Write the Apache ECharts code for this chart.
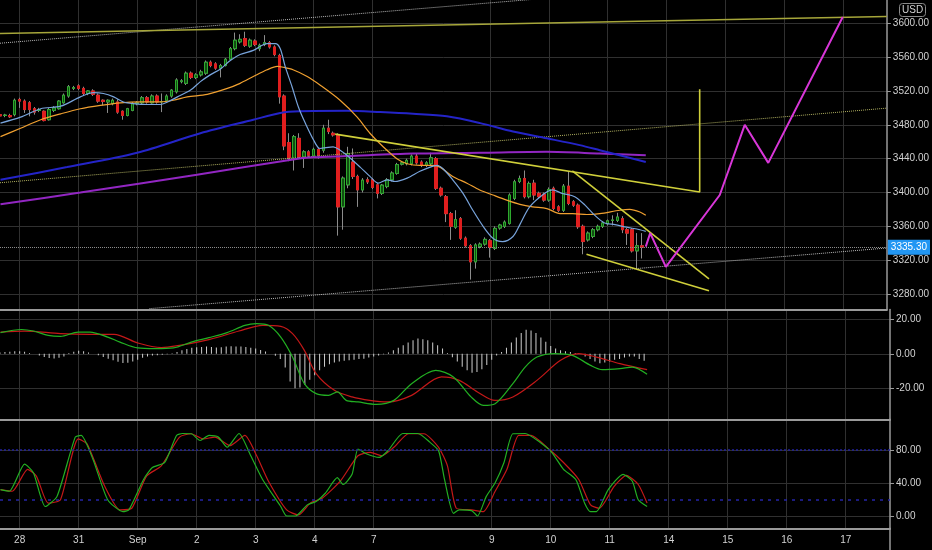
<!DOCTYPE html>
<html><head><meta charset="utf-8">
<script src="https://cdn.jsdelivr.net/npm/echarts@6/dist/echarts.min.js"></script>
<style>html,body{margin:0;padding:0;background:#000;overflow:hidden}#c{width:932px;height:550px}</style>
</head><body><div id="c"></div>
<script>
// ---------- data ----------
const dayLabels = ['28','31','Sep','2','3','4','7','','9','10','11','14','15','16','17'];
const barsPerDay = 12;
const firstBar = -4, lastSlot = 177;
// candles, bar -4 .. 127
const open = [3492,3491,3491,3492,
 3510,3508,3506,3499,3497,3496,3486,3497,3499,3506,3514,3523,
 3526,3523,3517,3520,3515,3509,3507,3505,3507,3496,3491,3497,
 3505,3506,3512,3506,3514,3507,3509,3514,3519,3531,3529,3541,
 3536,3539,3541,3554,3552,3547,3550,3557.5,3570,3578,3582,3573,
 3579,3570,3575,3577,3572,3562,3514,3459,3440,3464,3442,3448,
 3443,3451,3450,3476,3470,3468,3383,3409,3436,3419,3403,3415,
 3415,3409,3399,3407,3415,3422.5,3433.5,3434,3434,3443,3436,3432,
 3434,3440,3405,3395,3375,3359,3369,3346,3337,3318,3336,3339,
 3343,3334,3358,3360,3363.5,3393,3413,3416.6,3395,3411,3399,3398,
 3391,3405,3383,3379,3407.5,3389,3385,3360,3344,3348,3356,3360,
 3363,3367,3367,3369,3356,3356,3331,3337];
const close = [3490.5,3491.5,3489.5,3509,
 3508,3498,3498,3495,3498,3485,3498,3500,3508,3515,3525,3524,
 3523,3517,3520,3516,3508,3507.5,3509,3509,3495,3491,3499,3505,
 3506,3512,3507,3514,3507,3507.5,3514,3521,3533,3532,3541,3536,
 3539,3542.5,3554,3550,3547,3550,3557.5,3570,3580,3581,3574,3580,
 3575,3574,3577,3572,3563,3513,3455,3441,3466,3442,3448,3444,
 3451,3444,3476,3472,3468,3383,3417,3446,3419,3403,3414.6,3412.5,
 3406,3399,3408.7,3415,3423,3433,3435,3438,3443,3435,3432,3435,
 3441,3405,3397,3375,3360,3368,3346,3337,3318,3338,3339,3344.6,
 3335,3357.6,3361.5,3365,3397,3412.6,3416.6,3395,3410.7,3397,3395,3391,
 3403.6,3381,3379,3407.5,3387,3385,3359.5,3342,3352,3356,3360,3364,
 3366.5,3367.5,3371,3356,3352,3331,3337,3335.3];
const low = [3489,3489,3488,3490,
 3500,3494,3490,3492,3495,3484,3485,3495,3498,3505,3512,3521,
 3521,3515,3515,3514,3506,3503,3494,3503,3493,3486,3490,3496,
 3503,3504,3505,3505,3505,3495,3508,3512,3517,3529,3527,3534,
 3534,3537,3539,3548,3545,3536,3549,3556,3568,3576,3572,3571,
 3573,3567,3573,3570,3561,3505,3450,3437,3426,3440,3429,3442,
 3441,3440,3447,3469,3466,3349,3356,3405,3416,3383,3400,3410,
 3404,3393,3397,3405,3413,3421,3432,3432,3432,3433,3430,3430,
 3432,3403,3395,3365,3344,3357,3344,3335,3297,3310,3334,3337,
 3323,3332,3356,3358,3362,3391,3411,3393,3393,3391,3393,3389,
 3389,3379,3377,3377,3385,3383,3357,3327,3342,3346,3354,3358,
 3361,3361,3365,3352,3338,3329,3310,3322];
const high = [3494,3493,3493,3511,
 3512,3510,3508,3501,3500,3497,3500,3502,3509,3517,3527,3526,
 3528,3525,3521,3522,3517,3510,3510,3511,3510,3497,3500,3507,
 3508,3514,3514,3516,3516,3517,3516,3522,3535,3534,3543,3543,
 3541,3545,3556,3556,3554,3552,3559,3572,3589,3587,3590,3582,
 3581,3576,3586,3579,3574,3564,3516,3470,3468,3470,3450,3450,
 3453,3453,3480,3486,3472,3470,3419,3454,3452,3421,3417,3418,
 3417,3411,3410,3417,3425,3435,3437,3440,3445,3446,3438,3437,
 3447,3442,3407,3397,3377,3379,3371,3348,3339,3340,3341,3347,
 3345,3360,3363,3367,3399,3415,3420,3426,3413,3415,3401,3400,
 3406,3407,3385,3410,3425,3391,3387,3362,3354,3358,3362,3366,
 3368,3373,3376,3372,3358,3358,3352,3352];
const lastPrice = 3335.30;

// moving averages [bar, price]
const fastMA = [[-3.9,3482],[0.2,3489],[4.3,3499],[8.4,3502],[12.4,3513],[15.1,3518],[17.1,3517],[19.2,3513],[21.2,3507],[23.2,3505],[26.1,3504],[28.7,3504],[30.2,3507],[32.2,3513],[34.9,3521],[36.9,3531],[38.9,3539],[41,3546],[43,3556],[45,3563],[47.7,3568],[50.5,3576],[52.2,3576],[53.2,3570],[54.2,3549],[55.6,3525],[56.9,3501],[58.3,3482],[60,3462],[61.3,3452],[64,3454],[65.4,3450],[66.8,3444],[69.5,3430],[71.5,3419],[73.2,3411],[75,3415],[76.6,3413],[79.1,3417],[81.7,3425],[83.8,3430],[85.2,3432],[86.4,3428],[88.4,3415],[90.5,3399],[92.5,3379],[94.6,3360],[96.6,3346],[98.6,3342],[100.7,3348],[102.1,3362],[104.1,3383],[107.2,3399],[108.8,3403],[110.7,3399],[113.3,3395],[115.4,3385],[117.4,3373],[119.4,3364],[121.5,3362],[123.9,3359],[126.6,3356],[127.8,3354]];
const orangeMA = [[-3.9,3466],[0.2,3476],[4.3,3486],[8.4,3493],[12.4,3499],[16.5,3503],[20.6,3506],[24.7,3507],[28.7,3507],[31.4,3509],[34.2,3513],[38.3,3516],[42.4,3523],[45,3529],[47.7,3537],[50.5,3545],[52.6,3549],[53.8,3548],[55.8,3545],[58.7,3537],[61.3,3527],[65.4,3509],[68.9,3489],[71.5,3470],[74.2,3454],[77,3440],[79.1,3434],[81.7,3432],[84.4,3432],[85.8,3430],[88.4,3419],[91.3,3411],[93.9,3403],[96.6,3397],[99.4,3391],[102.1,3386],[104.7,3383],[107.6,3381],[110.3,3375],[112.9,3375],[115.8,3374],[118.4,3375],[122.5,3379],[124.5,3380],[126.6,3377],[127.8,3373]];
const blueMA = [[-3.9,3415],[9.7,3430],[24,3447],[36.9,3470],[47.7,3486],[53.2,3494],[57.2,3496],[66.8,3496.5],[73.6,3495],[80.3,3493],[87.2,3490],[94,3482],[100.7,3472],[107.6,3464],[114.3,3456],[118.4,3450],[127.8,3436]];
const purpleMA = [[-3.9,3386],[12.4,3400],[36.2,3421],[55.8,3439],[59.9,3441.5],[66.8,3443],[80.3,3446],[94,3447],[107.6,3448],[118.4,3446],[127.8,3444]];

// drawings [bar, price]
const oliveLine = [[-4,3588],[177,3608]];
const channelTop = [[-4,3576.4],[118,3634.6]];
const channelMid = [[-4,3411.5],[177,3499.7]];
const channelLow = [[26.5,3262.7],[177,3334.4]];
const yellowTrend = [[64.4,3469],[138.8,3400.5],[138.8,3522]];
const wedgeUpper = [[112.8,3425.6],[140.7,3297.8]];
const wedgeLower = [[115.7,3326.9],[140.7,3283.9]];
const projection = [[127.8,3336],[128.7,3352],[131.9,3312],[142.9,3397],[148,3480],[152.8,3435],[168,3607.5]];

// MACD
const macdHist = [0.8,1,1.2,1.5,1.5,1.2, 0.5,0, -1,-1.8,-2.5,-2.7,-2.3,-1.5, 0.5,1.2,1.8,1.5,0.8, 0,-0.8,
 -1.8,-2.8,-3.8,-4.6,-5.4,-5.2,-4.4,-3.4,-2.3, -1.5,-1,-0.8,-0.5,-0.3,0.3,
 1,2,2.8,3.5,3.8,4,4.2,3.9,3.6,3.8,4.2,4.4,4.2,4.3,4,3.5,3,2.2,1.3, 0,-1.2,-3,
 -8,-16,-20,-19.5,-18,-15,-12.5,-9.5, -7.5,-6,-5,-4.5,-4,-3.8,-3.5,-3,-2.8,-2.2,-1.5,-1,-0.3,
 0.8,2,3.5,5,6.5,7.8,8.8,8.5,7.8,6.5,5,3, 0.5,-2,-4.5,-7.5,-9.5,-11,-10.5,-9,-6.5,-3.5, -1,
 1,3.5,6.5,9.5,12,14,13.5,12,9.5,7,4.5,3, 2,1.5,1,0.5,0,
 -1.5,-3,-4.5,-5.5,-5,-4.5,-3.5,-3,-2.2,-1.5,-1.5,-3,-4];
const macdLine = [[-3.9,12.3],[0.4,14.1],[2.8,13.2],[5.8,10.7],[8.3,10.1],[11.9,12.6],[14.3,12.6],[17.9,9.7],[20.4,6.8],[24,3.4],[27.6,3.0],[31.3,3.4],[34.9,6.8],[38.5,9.4],[42.2,12.3],[45.8,16.5],[48.2,17.5],[50.6,16.5],[53.1,9.7],[55.5,-1.9],[57.9,-17.3],[60.3,-23.1],[62.8,-24.1],[64.6,-22.1],[66.4,-27],[68.8,-27.9],[72.5,-29.3],[76.1,-27],[79.7,-17.3],[84.6,-9.6],[88.2,-13.4],[91.8,-25],[94.3,-29.9],[96.7,-28.9],[100.3,-17.3],[102.8,-7.7],[105.2,-1.9],[108.8,0.1],[112.4,-0.9],[116.1,-6.7],[118.5,-9.2],[122.1,-8.6],[124.6,-7.7],[127.6,-11.9]];
const signalLine = [[-3.9,12.6],[1,13.2],[8.3,11.7],[14.3,11.3],[19.2,11.3],[24,6.3],[28.8,3.6],[32.5,4.9],[38.5,8.2],[44.6,13.2],[49.4,16.5],[53.1,15.9],[55.5,11.7],[57.9,2],[60.3,-11.5],[64,-21.2],[67.6,-25],[71.2,-27],[74.9,-27.9],[79.7,-24.1],[85.8,-13.4],[89.4,-15.4],[93.1,-22.1],[96.7,-27],[100.3,-25],[105.2,-15.4],[110,-3.8],[113.7,0.1],[117.3,-1.9],[122.1,-5.7],[127.6,-9.2]];

// Stochastic
const stochK = [[-3.9,32],[-2.1,30],[1,62.8],[2.8,52.5],[5.2,11.5],[7.6,23.8],[11.3,95.6],[12.5,97.6],[14.9,68.9],[17.9,19.7],[21,5.3],[22.2,7.4],[25.2,44.3],[27,58.7],[29.5,64.9],[31.9,97.6],[33.1,100],[34.9,99.7],[36.7,91.5],[38.5,97.6],[40.4,95.6],[42.2,83.3],[44.6,100],[47,73],[49.4,44.3],[53.1,11.5],[54.3,0],[56.1,0],[58.5,13.5],[60.3,17.6],[62.2,27.9],[64.6,46.4],[65.8,38.2],[67.6,50.5],[68.8,81.2],[70.6,75.1],[73.1,71],[74.9,79.1],[77.9,100],[81,100],[83.4,89.5],[85.2,79.1],[86.4,44.3],[88.2,3.3],[89.4,7.4],[91.9,6.6],[93.1,0],[94.9,23.8],[96.7,40.2],[98.5,64.9],[100.3,99.7],[102.8,100],[105.8,89.5],[108.2,77.2],[110.6,56.6],[113.1,44.3],[114.9,15.6],[116.1,5.3],[117.3,5.3],[119.7,32],[122.7,50.5],[124.6,42.2],[125.8,19.7],[127.6,11.5]];
const stochD = [[-3.9,32],[-1.5,30],[1.6,56.6],[3.4,48.4],[5.8,15.6],[8.3,19.7],[11.9,93.5],[13.7,87.4],[17.3,36],[20.4,7.4],[22.8,9.4],[25.8,48.4],[28.8,60.7],[32.5,95.6],[34.9,99.7],[37.3,93.5],[39.7,95.6],[42.8,85.3],[45.8,97.6],[48.2,73],[50.6,42.2],[54.3,7.4],[56.7,1.2],[59.1,15.6],[61.6,21.8],[65.2,42.2],[68.8,73],[71.3,77.2],[73.7,73],[76.1,83.3],[79.1,99.7],[82.2,99.7],[85.2,83.3],[87,60.7],[88.8,9.4],[91.9,7.4],[94.3,5.3],[96.7,30],[99.1,56.6],[101.5,97.6],[104,97.6],[107.6,81.2],[110.6,64.9],[113.7,44.3],[116.1,13.5],[117.9,9.4],[120.9,36],[123.4,49.2],[125.8,38.2],[127.6,15.6]];

// axis ticks
const priceTicks = [3280,3320,3360,3400,3440,3480,3520,3560,3600];
const macdTicks = [-20,0,20];
const stochTicks = [0,40,80];
const stochLevels = [80,20];

// ---------- build ----------
const FONT = "'Liberation Sans Narrow','Liberation Sans',Arial,sans-serif";
const GRID = '#303030', SEP = '#9a9a9a', TXT = '#d2d2d2';
const cats = [];
for (let b = firstBar; b <= lastSlot; b++) cats.push(String(b));
function labelAt(idx) {
  const b = idx + firstBar;
  if (b >= 0 && b % barsPerDay === 0) { const d = dayLabels[b / barsPerDay]; return d === undefined ? '' : d; }
  return '';
}
const ohlc = open.map((o, k) => [o, close[k], low[k], high[k]]);
const bodies = open.map((o, k) => [o, close[k], Math.min(o, close[k]), Math.max(o, close[k])]);

function xCat(g, labels) {
  return {type:'category', gridIndex:g, data:cats, boundaryGap:false,
    axisLine:{show:true, onZero:false, lineStyle:{color:SEP, width:2}},
    axisTick:{show:false},
    axisLabel:{show:labels, interval:(i)=>labelAt(i)!=='', formatter:(v,i)=>labelAt(i), color:TXT, fontSize:10, margin:7, fontFamily:FONT},
    splitLine:{show:true, interval:(i)=>labelAt(i)!=='', lineStyle:{color:GRID, width:1}}};
}
function xVal(g) { return {type:'value', gridIndex:g, min:firstBar, max:lastSlot, show:false}; }
function yAx(g, min, max, ticks) {
  return {type:'value', gridIndex:g, position:'right', min, max,
    axisLine:{show:true, onZero:false, lineStyle:{color:SEP, width:1.5}},
    axisTick:{show:true, length:4, customValues:ticks, lineStyle:{color:SEP}},
    axisLabel:{customValues:ticks, formatter:(v)=>v.toFixed(2), color:TXT, fontSize:10, margin:6, fontFamily:FONT},
    splitLine:{show:true, lineStyle:{color:GRID, width:1}}};
}
function ln(data, xi, yi, color, width, extra) {
  return Object.assign({type:'line', data, xAxisIndex:xi, yAxisIndex:yi, showSymbol:false, symbol:'none',
    silent:true, animation:false, lineStyle:{color, width}}, extra || {});
}

const option = {
  backgroundColor:'#000',
  animation:false,
  title:{text:'USD', left:899, top:3, padding:[2,3], borderColor:'#8a8a8a', borderWidth:1, borderRadius:3,
    textStyle:{color:TXT, fontSize:10, fontWeight:'normal', fontFamily:FONT}},
  grid:[
    {left:0, right:42, top:0, height:309.5},
    {left:0, right:42, top:309.5, height:109.8},
    {left:0, right:42, top:419.3, height:109},
    {left:0, right:42, top:528.3, height:21.7}
  ],
  xAxis:[xCat(0,false), xVal(0), xCat(1,false), xVal(1), xCat(2,true), xVal(2), {type:'value', gridIndex:3, show:false}],
  yAxis:[
    yAx(0, 3261.7, 3627.5, priceTicks),
    yAx(1, -37.97, 25.68, macdTicks),
    yAx(2, -14.9, 117.2, stochTicks),
    {type:'value', gridIndex:3, position:'right', min:0, max:1, axisLine:{show:true, onZero:false, lineStyle:{color:SEP, width:1.5}},
      axisTick:{show:false}, axisLabel:{show:false}, splitLine:{show:false}}
  ],
  series:[
    // drawings behind candles
    ln(channelTop, 1, 0, '#b8b8b8', 1, {lineStyle:{color:'#b8b8b8', width:1, type:'dotted'}}),
    ln(channelMid, 1, 0, '#b0b060', 1, {lineStyle:{color:'#b0b060', width:1, type:'dotted'}}),
    ln(channelLow, 1, 0, '#b8b8b8', 1, {lineStyle:{color:'#b8b8b8', width:1, type:'dotted'}}),
    ln(oliveLine, 1, 0, '#a6a63a', 1.5),
    ln(purpleMA, 1, 0, '#9226c2', 2, {smooth:0.3}),
    ln(blueMA, 1, 0, '#2424c8', 2, {smooth:0.3}),
    // candles: wicks then bodies
    {type:'candlestick', xAxisIndex:0, yAxisIndex:0, data:ohlc, barWidth:3, silent:true,
      itemStyle:{color:'#8c8c8c', color0:'#8c8c8c', borderColor:'#8c8c8c', borderColor0:'#8c8c8c', borderWidth:1}},
    {type:'candlestick', xAxisIndex:0, yAxisIndex:0, data:bodies, barWidth:3, silent:true,
      itemStyle:{color:'#124d12', color0:'#e01e1e', borderColor:'#2eaa2e', borderColor0:'#e01e1e', borderWidth:1},
      markLine:{silent:true, symbol:'none', animation:false,
        lineStyle:{color:'#8c8c8c', width:1, type:'dotted'},
        label:{show:true, position:'end', distance:1, formatter:()=>lastPrice.toFixed(2), color:'#fff',
          backgroundColor:'#2196f3', padding:[3,3,2,3], fontSize:10, fontFamily:FONT},
        data:[{yAxis:lastPrice}]}},
    ln(orangeMA, 1, 0, '#f0a030', 1.2, {smooth:0.3}),
    ln(fastMA, 1, 0, '#78a4dc', 1.2, {smooth:0.3}),
    ln(yellowTrend, 1, 0, '#cfcf3a', 1.6),
    ln(wedgeUpper, 1, 0, '#cfcf3a', 1.6),
    ln(wedgeLower, 1, 0, '#cfcf3a', 1.6),
    ln(projection, 1, 0, '#d836d8', 2),
    // MACD pane
    {type:'bar', xAxisIndex:2, yAxisIndex:1, data:macdHist, barWidth:1, silent:true, itemStyle:{color:'#cfcfcf'}},
    ln(signalLine, 3, 1, '#c41818', 1.2, {smooth:0.3}),
    ln(macdLine, 3, 1, '#22b022', 1.2, {smooth:0.3}),
    // Stochastic pane
    ln(stochD, 5, 2, '#c41818', 1.2, {smooth:0.2}),
    ln(stochK, 5, 2, '#22b022', 1.2, {smooth:0.2,
      markLine:{silent:true, symbol:'none', animation:false, label:{show:false},
        data:[{yAxis:stochLevels[0], lineStyle:{color:'#22229a', width:1.5, type:[2,2]}},
              {yAxis:stochLevels[1], lineStyle:{color:'#2424a8', width:1.5, type:[3,5]}}]}})
  ]
};
const chart = echarts.init(document.getElementById('c'), null, {renderer:'canvas'});
chart.setOption(option);
</script>
</body></html>
